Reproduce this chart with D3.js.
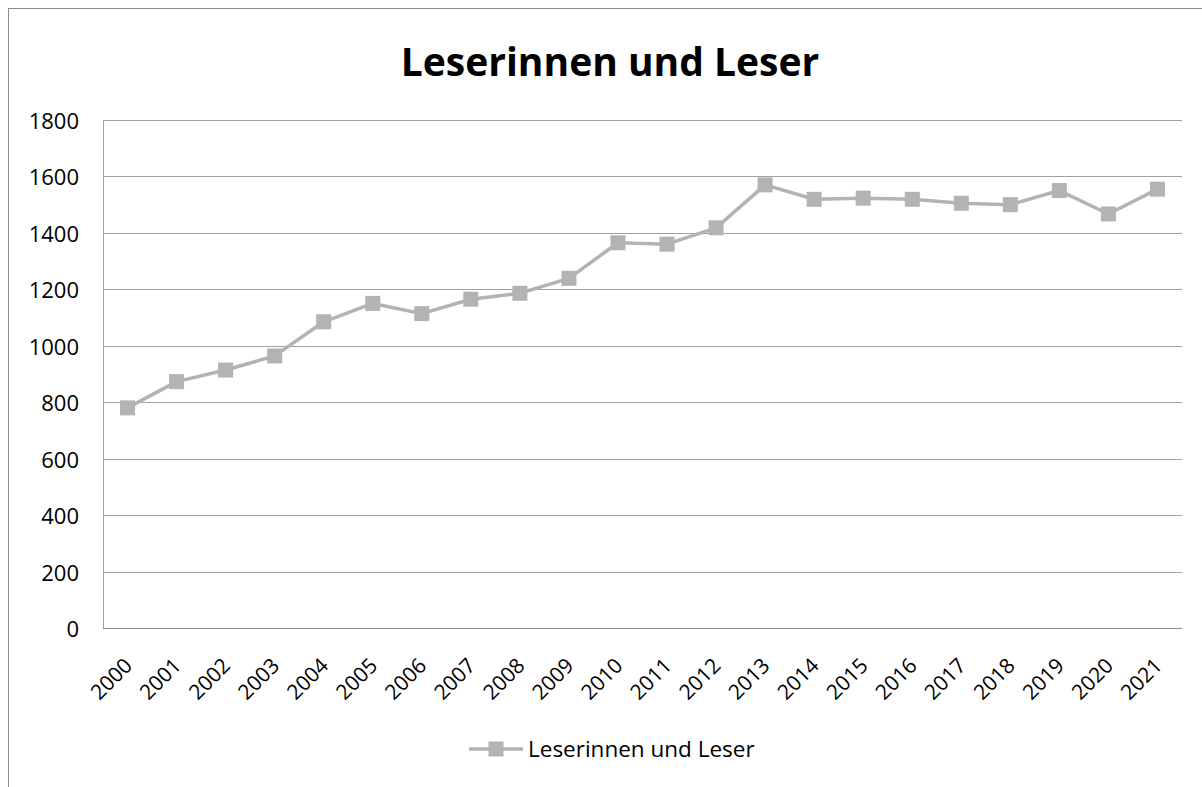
<!DOCTYPE html>
<html>
<head>
<meta charset="utf-8">
<script src="https://cdn.jsdelivr.net/npm/d3@7"></script>
<style>
  body { margin: 0; background: #fff; }
  text { font-family: "Open Sans", "Noto Sans", sans-serif; fill: #000; }
</style>
</head>
<body>
<script>
/* global d3 */

const years = ['2000', '2001', '2002', '2003', '2004', '2005', '2006', '2007', '2008', '2009', '2010',
  '2011', '2012', '2013', '2014', '2015', '2016', '2017', '2018', '2019', '2020', '2021'];
const readers = [780, 873, 914, 964, 1085, 1150, 1114, 1165, 1186, 1239, 1365,
  1360, 1418, 1570, 1519, 1523, 1519, 1505, 1500, 1550, 1467, 1555];
const yTicks = [0, 200, 400, 600, 800, 1000, 1200, 1400, 1600, 1800];
const seriesName = 'Leserinnen und Leser';
const title = 'Leserinnen und Leser';

const width = 1202;
const height = 787;
const margin = { top: 120, right: 20, bottom: 159, left: 103 };
const grey = '#b3b3b3';

const svg = d3.select('body').append('svg')
  .attr('width', width)
  .attr('height', height);

// chart frame (runs off the right and bottom edge like the screenshot)
svg.append('rect')
  .attr('x', 8.5).attr('y', 8.5)
  .attr('width', width).attr('height', height)
  .attr('fill', 'none')
  .attr('stroke', '#8c8c8c');

svg.append('text')
  .attr('x', 610).attr('y', 76)
  .attr('text-anchor', 'middle')
  .attr('font-size', 39)
  .attr('font-weight', 700)
  .text(title);

const x = d3.scaleBand()
  .domain(years)
  .range([margin.left, width - margin.right]);

const y = d3.scaleLinear()
  .domain([0, 1800])
  .range([height - margin.bottom, margin.top]);

// gridlines
svg.append('g')
  .selectAll('line').data(yTicks)
  .enter().append('line')
    .attr('x1', margin.left)
    .attr('x2', width - margin.right)
    .attr('y1', d => Math.round(y(d)) + 0.5)
    .attr('y2', d => Math.round(y(d)) + 0.5)
    .attr('stroke', d => d === 0 ? '#8c8c8c' : '#a0a0a0')
    .attr('stroke-width', 1);

// left axis line
svg.append('line')
  .attr('x1', margin.left + 0.5).attr('x2', margin.left + 0.5)
  .attr('y1', y(1800)).attr('y2', y(0))
  .attr('stroke', '#a0a0a0');

// y tick labels
svg.append('g')
  .selectAll('text').data(yTicks)
  .enter().append('text')
    .attr('x', 79)
    .attr('y', d => y(d) + 9)
    .attr('text-anchor', 'end')
    .attr('font-size', 22)
    .text(d => d);

// x tick labels, rotated
svg.append('g')
  .selectAll('text').data(years)
  .enter().append('text')
    .attr('transform', d => `translate(${x(d) + x.bandwidth() / 2 + 6},${height - margin.bottom + 39}) rotate(-45)`)
    .attr('text-anchor', 'end')
    .attr('font-size', 21)
    .text(d => d);

const cx = d => x(d) + x.bandwidth() / 2;

const line = d3.line()
  .x((d, i) => cx(years[i]))
  .y(d => y(d));

svg.append('path')
  .datum(readers)
  .attr('d', line)
  .attr('fill', 'none')
  .attr('stroke', grey)
  .attr('stroke-width', 3.5)
  .attr('stroke-linejoin', 'round');

const size = 15;
svg.append('g')
  .selectAll('rect').data(readers)
  .enter().append('rect')
    .attr('x', (d, i) => cx(years[i]) - size / 2)
    .attr('y', d => y(d) - size / 2)
    .attr('width', size)
    .attr('height', size)
    .attr('fill', grey);

// legend
const legend = svg.append('g').attr('transform', 'translate(469,749)');
legend.append('line')
  .attr('x1', 0).attr('x2', 54)
  .attr('stroke', grey)
  .attr('stroke-width', 3.5);
legend.append('rect')
  .attr('x', 27 - size / 2).attr('y', -size / 2)
  .attr('width', size).attr('height', size)
  .attr('fill', grey);
legend.append('text')
  .attr('x', 59).attr('y', 8)
  .attr('font-size', 22.5)
  .text(seriesName);
</script>
</body>
</html>
